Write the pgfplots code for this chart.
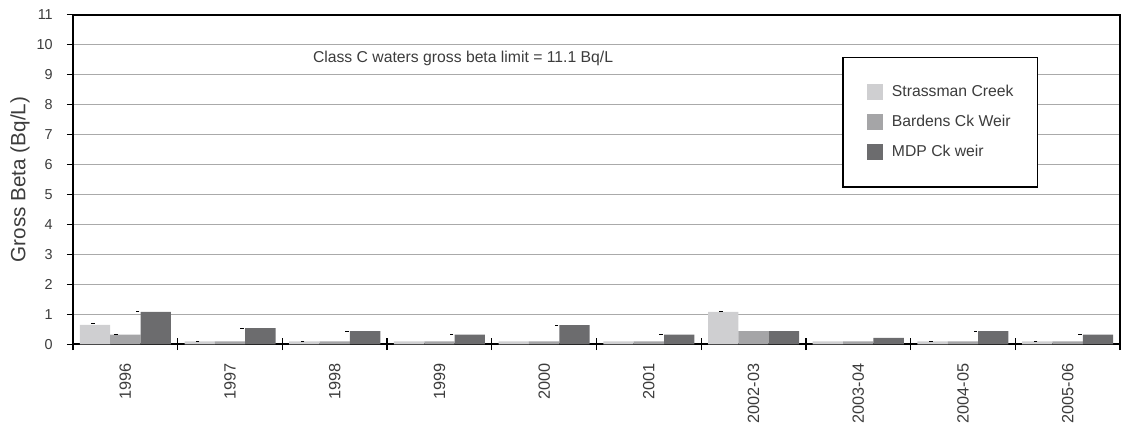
\documentclass[border=0pt]{standalone}
\usepackage{pgfplots}
\pgfplotsset{compat=1.18}
\usepackage{fontspec}
\setmainfont{Liberation Sans}
\definecolor{cS}{RGB}{207,207,209}
\definecolor{cB}{RGB}{165,165,167}
\definecolor{cM}{RGB}{108,108,110}
\definecolor{gridc}{RGB}{170,170,170}
\definecolor{txt}{RGB}{60,60,60}
\begin{document}
\begin{tikzpicture}
\begin{axis}[
  at={(0,0)}, anchor=south west,
  scale only axis, width=785.25pt, height=247.2pt,
  xmin=-0.5, xmax=9.5, ymin=0, ymax=11,
  bar width=0.29,
  axis line style={black, line width=1.4pt},
  tick pos=left,
  xtick={0,...,9},
  xticklabels={1996,1997,1998,1999,2000,2001,2002-03,2003-04,2004-05,2005-06},
  minor xtick={-0.5,0.5,...,9.5},
  x tick style={draw=none},
  minor x tick style={draw=black, line width=1pt},
  minor tick length=8.75pt,
  xtick align=center,
  xticklabel style={rotate=90, anchor=east, inner sep=0pt, font=\fontsize{12.2}{14}\selectfont, text=txt},
  xticklabel shift=12pt,
  ytick={0,...,11},
  ytick align=outside,
  y tick style={draw=black, line width=0.8pt},
  major tick length=4.5pt,
  yticklabel style={inner sep=0pt, font=\fontsize{10.8}{12}\selectfont, text=txt},
  yticklabel shift=10.5pt,
  /pgf/number format/assume math mode=true,
  ymajorgrids, grid style={gridc, line width=1.1pt},
  ylabel={Gross Beta (Bq/L)},
  every axis y label/.style={at={(axis description cs:-0.0506,0.5)}, rotate=90, anchor=center, font=\fontsize{15.5}{18}\selectfont, text=txt},
  legend style={at={(0.7345,0.873)}, anchor=north west, draw=black, line width=1.4pt,
    inner xsep=18pt, inner ysep=20pt, row sep=10.5pt,
    font=\fontsize{11.8}{13}\selectfont, text=txt,
    nodes={inner sep=0pt, text height=8.5pt, text depth=2.5pt, anchor=west},
    legend cell align=left},
  clip=false,
]
\addplot[ybar, bar shift=-0.29, fill=cS, draw=none,
  legend image code/.code={\fill[cS] (0pt,-6pt) rectangle (12pt,6pt); \path (18.75pt,0pt);}]
  coordinates {(0,0.65) (1,0.1) (2,0.1) (3,0.1) (4,0.1) (5,0.1) (6,1.08) (7,0.1) (8,0.1) (9,0.1)};
\addplot[ybar, bar shift=0, fill=cB, draw=none,
  legend image code/.code={\fill[cB] (0pt,-6pt) rectangle (12pt,6pt); \path (18.75pt,0pt);}]
  coordinates {(0,0.32) (1,0.1) (2,0.1) (3,0.1) (4,0.1) (5,0.1) (6,0.44) (7,0.1) (8,0.1) (9,0.1)};
\addplot[ybar, bar shift=0.29, fill=cM, draw=none,
  legend image code/.code={\fill[cM] (0pt,-6pt) rectangle (12pt,6pt); \path (18.75pt,0pt);}]
  coordinates {(0,1.08) (1,0.54) (2,0.44) (3,0.32) (4,0.64) (5,0.32) (6,0.44) (7,0.21) (8,0.44) (9,0.32)};
\legend{Strassman Creek, Bardens Ck Weir, MDP Ck weir}
\addplot[only marks, mark=-, mark size=1.2pt, mark options={black, line width=0.8pt}, forget plot] coordinates {
 (-0.309,0.70) (-0.089,0.32) (0.118,1.08)
 (0.691,0.09) (1.114,0.54)
 (1.694,0.09) (2.117,0.44)
 (3.117,0.32) (4.12,0.64) (5.116,0.32)
 (5.689,1.08)
 (7.695,0.09) (8.118,0.44)
 (8.695,0.09) (9.118,0.32)};
\node[anchor=west, inner sep=0pt, font=\fontsize{11.8}{13}\selectfont, text=txt] at (axis cs:1.79,9.54) {Class C waters gross beta limit = 11.1 Bq/L};
\end{axis}
\pgfresetboundingbox
\path[use as bounding box] (-54.75pt,-59.78pt) rectangle (786.75pt,258.2pt);
\end{tikzpicture}
\end{document}
